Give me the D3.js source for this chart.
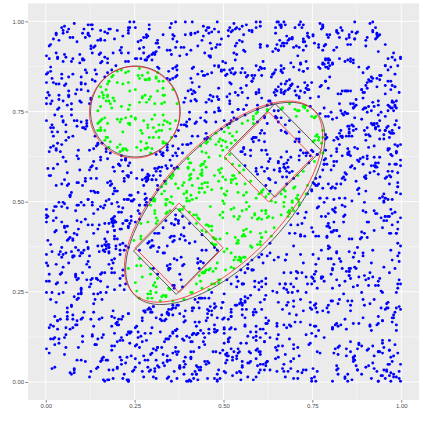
<!DOCTYPE html>
<html>
<head>
<meta charset="utf-8">
<script src="https://cdn.jsdelivr.net/npm/d3@7"></script>
<style>
body { margin: 0; background: #fff; }
svg { display: block; }
</style>
</head>
<body>
<svg id="chart" width="423" height="423"></svg>
<script>
// sampled points, 4 hex chars per point (x coarse, x fine, y coarse, y fine)
var pointHex = [
"3f9a07c2e81b5d64a93e0f7c2b18d5e6c470a9f3158be2d7064cfa19b3e8527d0c6af41e93b7d285c0fa6e1937b4d82a0e5c9f16b7348de2a0c5f19b6734ed8",
"92c7e04b8f1a6d35e9027bc4f8a1d63e507c9b2fa4e8d1063b7cf59a2e0d84b16f3c7a95e2d08b4f61ca37e9052bd8f14a6c39e7b205df8a461c3e97b0f5a2d",
"6e1a9d40c7f28b53e6a10d9cf47b2e85a3c06f19d7b4e2a85c31f09e6d7b4a28c5f3e10a97d6b42ec8f135a0d97b6e24c8f1a53d09e7b6c42af8153e0d96b7c",
"5511ab2e09dc7743f0a8be31c65d29ff8046ea1375bc0d9e246a8f13cb7e5092dd4a6f81b3e0c7592a4ef6813cd07b95e2a648f10dc3b79e5a2806f4dc1b73",
"8c3e1a07f5d92b64e0a7c19f3d5b826e4f1073ad9c25be68b29d6f4e0a13c75872f4ba09e1c3d665d1e80c2fa7b3941a95fc62d8e4b0377c0e42b1d9f5a86e",
"3b8f9d26e41ca0751ca46fe9d382b05790b5e17a2c4d8f63e3d7209cb61f5a84681ef4c2a97bd0353f62dcb0e9784a1526a9e05f7bd3c814f4c1b7e8a03d2965",
"d6e20c9ab14f7358a87b43e1f0d69c25fa0d2937c6e15b84053c8ef1a72d64b9c9f16ad4e8b03257e5da309b4f2c718637f418d5a0e2c9b6b2a05c7e19f3d84e",
"42af7cd318e6b05919c75f02d4ab8e36ec8b6a5f3701d24987e23d90bc56af14d4079b1e6fac2385b5e9c4a832d0f7163c6a81f7e05d92b40e19dcb3a7f482c6",
"a9053ebf62c1d7847d3e9a0cf81b52646b6f25c8d9a0e31713d0fb47ea5c9628f5842ad7c3e91b06e2c71b96a0f3d548584bd90ef2a67c1371e6a35cd40b9f82",
"0e7d4b1f9a3c86255fb1e83a647c0d92c2a975d0e1f63b48b8430fc629de7a15279fe84b5a1c30d6945ad2e8f07b61c3ad17c3b05e8f946228c60f9ad4b3e571",
"f1b8c5e4a22d09730a3f2e7d5c8691b4dd5c80b6f347a1e2e6f913a70b2dc58465e20ab9d8f4c317b07a4c1e5d93f6281c9e746f3a08b2d537d1f5a0c6be2948",
"58c49f7e01b2ad36c74ed02b1f83596ae92b7af45c6d108334e1a8c0d9f2b675a5d30e6b9c471f28161f9d7a30e45cb8b02cea5d741f3968ebf8d13924c6a70f",
"9f7a3dc20b5e8146216d8b5f9ae437c047b0e2c31d8a6f95c3e54a97f06b12d8ba917e3d5cf8240612cf6ba483e709d57e3d4a195f2bc8061a804df73c9e62b5",
"c44e1b9a027fd8635a0c7d3eb916f4284f9d60c8b3e21a75e38a72f5d1094cb617d25fb03a8e6c94b6e1940ad7c5382f932cdf46b0a1758e0bf84ae9c312d756",
"27a8e6f0cd4193b5e8524db17f9c0a36b1f603e59a8d274c0dc7ba43e6129f85694e2c1b8f05ad37d07fa5e9314c62b8a3b9c672d0f481e54c15e9d8a76fb032",
"e0d63a2c8571bf49bb294f07e6ad531c6cef1839a04d25b710a8bd5c7f9e426337d4e0f2c18b6a95f26bc948a3e510d78c30a71dfb5e49265a8e1f6b4c032d97",
"1a5c72b9e4086fd3d8e01f6c39ab274547b3cda802f51e693c4e8b5d1a0796f2a2f09e7bc64d3158e1d7526f4c8ab90377c9a34e0d1b85f2f46b81dc952a07e3",
"b7f0e4d1395a2c8654d2a96c0be7f13862a1f5073ec4b9d8f9c87b2e41d065a30b5d3e8af21c7649e468c0f3b9d512a783eb1a57c64f20d9ca1605f9e8db472b",
"6d93b5a8f20e1c470f47e2cb8d1963a5a52c0e9f4b7d3186d1ba6f380c4e597229e04d7c1a6b83f5f3759ab1e2c804d6481fc2e06db79a353c0a8fd96e472b1e",
"3ec5d89a14b2706fa0f1b62e7c5938d49b7a4cd501e8f263c2e8309fd6a41b576f1d83a5e2bc079405b9e2c0a7f4d18372a6fe14d9c0358bd95c07b36a1e2f48",
"85072fc3ae6d941bfd6e3b8a051c7924163ad94fe2b085c7ab9e51c6d0f3742828c4f70e19b5ad63e3d1a9587bc6f0427f50bd2c3e894a1645a8e6c91d03b7f2",
"d2b94e6071fca385c71a0f8d36e2b5494e68b1f3c9a527d07a3d52c84be16f09b0f5e92a7d4c13685d2c76b0e9af1834e8a04d31f5c762b919e7cf5b28a6d034",
"4f6b20ed8c7a1395e9350ad7b41cf862aa1d87f6039e54c27ce34b92d85f0a61017f5c3ae8b296d4bd48e1c970a35f2663a2f95be10c7d48f87c1b6e2d4093a5",
"a13d8c5b7f2e6049529f64a3e0d71cb8c8e07b1d4a6f329532b6d4f8e9157ac0ec5a3970db1f48261d94fa2c6e38b507b4702e6d58fca19376e1cb850a49f32d",
"09c6f5e3b1a8742d7e2b13d9a5f608c4f14da08c26e3b957bb8f7250e4c91a3d63d9e1c78ab25f04905b4af67d1e3c82d47a9c2eb68013f5e3f0dd716bc4a592",
"76e5a31fc0928db4b15c4e8207fa3d9620bde793f48a1c653fa92b6dc015e78487c1f05a3e6d294b1e6bd74ca85f230992e43a5f7b1c0d68cd307f8e4926ab51",
"eb8247d6395c0af1647ef19d2a3cb8053ab3f51c06e74d8999e1c6ba48df0352d250ea7f9c3b1648c5946be27f0a3d1810fd3c8b56e29a474ac27e0bd15f9863",
"2d1f09b8a6e4c37595743fcd10e82ab66ac5b274de9f1038f3098d5e2c4a7b610e2a6f91b58dc473b86d1c3a07f49e5233fb48e72ad6c5190179ae5d4b6c3f28",
"c9a27e154d0bf86308d93ab67f1ce2454b3e0fd81c9a6752e71cb43a968d205f5a8f62c09e3d71b4a06e95b327fd48c11cd58af4073e29b6f62b1d9ec0754a38",
"5473cea82f19bd0691f4d2e63b0ac857e82c9a1b6d5f03474e6ab9307c1d82f5d3b71f46e0a2589c27d0f8ce5b9a163492ed5a0c73b48f16ab15c37e946d028f"
].join("");

var extraHex = [
"f8e16d3a902cb57413a754bf8de0c2698dcb0e246a13f759602f94e1b5c8a7d337e98ab205d4fc61bc420f7d3a19e5680d6c5af182b4e7939b3f2c71e80d4a56",
"316b0fc9d8e7a25a4c59e12d7b3f608ea4fb28d39e06c1755e8d7c1b24af0963c270e8f45b91a3dd9a16b3e0c54f78218e3f6da29c750b14704ca9e5d26f8b13",
"be0c953d6a4f1782d7a48e0f9b13c26561e2f7ba3d085c94a3d6c12e8f7b04599bf0a76542ec1d383c51f8d70e96ab24f46b3a19c02d8e57067ed4b5f19a2c83",
"80f4ab6e1c379d52ecd6705f2ba9148344192ea8f5d07cb6c67b3f0d9e21a548d5e0947cab3f612ab82f6e501d4c9a73f9a1d53c846be07237c8b0e2fa59d614",
"1e53d2f87b9046ac6a3b8ce1d07f5492b0d74a963e2f1c85f7e2c5109bd8a36428c91f6b47ea3d05d4f067a3e82b1c5997b35edc1408fa26e06d2b84c3f975a1",
"a7c809e42bd53f16492e1d6fc75b83a0dc7b54ad1e09f2681f8a3e06b9c4d752e5b3c9f0d218a47666e1a4b2fc07d958b2587d6c13ae9f04348fe76a2dbc1905",
"6bd47e2a05c8913f0e6af9d47b21c5839a1c2bf8e6073d45574f0ea1d39b2c86c3e8d19b42f7a5600fb52d9c84e71a36e9a63c075fb4d12838d1f47ea6b029c5",
"d51ea0c86f3b4927b68c5732ea0d1f94237b9e0cd46fa51881a2d4b6f5e7930cf90d3be52a81c647c46f281ebd3a0759e207df95c3b6a18454c3b9f60a2e7d18",
"0aef6c3b9d7218455d29a1e4f87b0c3698c5f27d30e1b4a6e74b1c8a56d9f20313f6d85a29bce047bc1794e0f52a6d3822e8ab5d4c1f0769f7354bd6e890c1a2",
"93c3e5d108af4b726fb17d2ec4a5093814d0eb689f2ca753a8e64f0b3c7d91525b2ac9173e8f604dcf793a461b0de852e5b01c8ad46f2739268fe01d4cb7a3b5",
"47280b9e6cf1d3a5fa5c13d7e9b0846232ed8fa17b6c095493e7c86d5a4f01b2b41fd3926ea5c08701d9ae5c38f7b46289a4c1f0d2be57365e8c3b29a1d0f7e4",
"e8b5c1f4703a92d62c8ad5097f3e1b64c31f9e6ba057d48258a0bd3c94e1f67a7f6e2d918b3ca0451b47c68ed02f59a33fc59e82a47d106bd0b2e713f96ca548",
"5cf6d8a0e1b4392772e19b43ad6fc05806a3f71cd4b9e8528df84b3a017c5e69b9c72e5d61a0f38437d0fbc4e8a926154ae961c0d3fb827b1e3c9a4f8560d2b7",
"2916ae7fb34c0d58e7d0c8b26f1a4953a4e3b059d1c7f2863db14f6e8c29a570c0a5dfe12b7396846c4b9d37ea0f1528f2697a8d05e3bc14be8d12c053f4a796",
"d7ab3f4e2c190685b84f06dc3e5a9721571ca9ed804b3f6269e035b7f24dac18fb7e23190c8da54e03c6b8a51f9d27e45d2ea46c9b0f7138a912f7e0b64dc538",
"7064c9d2b85eaf13c1e8f7b06d39a24d3af5d2e1c49b8076e8b901aa5f6c3d27147d3cf8e6092b5a9be6a015d4c73f820d38e4b9a27f1c56fc95013dbe86a247",
"b85e29017af3c6d443b7ea6dc0219f58a0c5d198e3f6724bd62fc30b9a5e81748e01f5a4c7d3b296f39a7d2beb1406c559d4f8e3162a7cb012e6b9d5a8cf0734",
"1c2fd7b6e9830a545fd861c2ab07e93948a3c0e5d6f21b97e7195c4af8d3602bb6c03f9a214de785d5b82e6c7f09a1343e14a79b0c5d8f62817d6fb3e25c9a04",
"f3a91c0d582e7b64965c2afb170ed38435e7b4891dfc06a2cd8f1b3e49a65720092d6e7fc35b18a4ae4b059dc1f27638627f19e4a8bd03c5b3c06da175e2f849",
"4d0e8b73f5c21a96bf2a9d61e8340c57e31cd7950ab6f2486a98f3e4c10d5b27159c2bf87ea3d6400f74ea6b2c85d139c82e5a13d97f0b64d7b6904fce1a2835",
"a62d5fc90e7b1438098f3e1bd65a2c74f5c4a8d6e2b9703152e0b7c3498fa16d8c17e0b4f3d526a9b3f49e6a0d7cc2813da5e2f981b6c047e6780c2db5f14a39",
"15b9e7a04cd26f83dc4a06f5b93e817222f7c1ea843d9b60b093de8f5c16a2478a5e29d0c74f1b3e6e01b8c4f792ad35f4d8372a6e1b0c59c3a61d8f0b5e4792",
"ea7c1804b6f3d295734e9cb2af08d1653b1d6fea592c4807c82fa4397de0b516591b0ce7a46fd3820e6d52b8c3f914a7d9f03ab1e4c56872b14e7d0a8c3f6925",
"862f3ad1c05be97415c0b94e3d7f6a280fe49752bd13ac68adb6e803f25c7914e4280d1c96ba5f3739d5ec6ab1f4082701f8a25c6d397be4b73a4de9e0f26c15",
"3fd1b0e97a25c64891a6d3c8f504e27bc8537a2f0db9e461e2b8f146c0a7d5935e6c94d8a32f017bb07d25f1ec4a9368492e7bc5f063d1a8d5f3a19e76c048b2",
"c0e94f68d17a3b25f7b4e23a89c51d06261fa8d4ce0b3759ab3c0ef597d2468115d87c3b64aef209e9a12c07bd5f836440be5f93a1c2d786d7627eb48f0a1c39",
"97d5a3e0b28c6f147e0f6c5ad9b3418232c8fb1e60a5d7944a91e27c3f8d6b05f56b8d19e04c73a2b1de4730fa926c58085cf6ba2d3e71946c2ab9d180ef35a7"
].join("");

var moreHex = [
"c15ad8e2b6f0374992ab0e71d35cf86447fe293d8b15a06cbb08e6c4279da13f6d39f50a8c4e17b2ae7c2b04f19d6358f1a94d6e83c20b75380c6fa91be2d47d",
"268d0b3ea57f9c14e0b5947cd18f26a3fb72ce091a4d853683c4f9e27b05a1ddd4a06183e9b52fc7175bea9c042fd83e39e6d0f47a1b8c25a0d92b35c8e7f614",
"ba13f78e456c29d0d7f025a1bce396846d2b8c4f017ea95322fe9a70d64b38c1841c635bf9a0e27d5fa7e2d93c601b48c3084b1fe76d5a9209c5f7a2b184e3d6",
"e6d25b0917ac48f3d0e3b81c47f6295a4a97f6e3c20d1b85cb8f2d6a5e4197031cb0ee9872d3f46a5b7dc16fa094e228c54a37bd1e6f0904fe1d8c6b237a59a5",
"7b29c4da03e18f65c680fa359b4d2e717e1f9b5c0a2d4683f84a27d6eb9c513006dc8ff0b342a1e759a5e3187cd0246b3b147a29e6d5cf0861b7d0e5c4fa3892",
"f5c70e2b9d84a13639a6b21f8c0e75d48e4356d1f27a0bc9a13bc89470fe5d2640f89d3c1e6b5a7215e9ca7bd3468f0c2c6d1a85f0b47e39e7039be24f6c1a85",
"3da81f6c2e59b70418b5e9d3c07a4f62d07c42a0b1e386f95ff6d73e89c21ab4629e10b5ad4783cfa20f5874c9e3b16d8c54b93f6ad071e2bc3a6e1f27940d58",
"95e4a302d6fb1c87e318d5f64a2b90c72c47bf18e503d69aa96f0ce471b82d35b8c12d75f0ae6493175e3a9b6c82f0d4db07f6a418c3592e68a3dce92f0175b4",
"04f7c6b8253e9ad1ad2e57901fc6b83448b16ca3d97f205e7903e842c5ad1fb6e2cdba17063f8954361fd05ea8749bc2fa6984e7b01d253c8e4b31f2a9d6c705",
"d1307ae95cb8f246bf9c34d86e102a575e82a1f0bc473d9616f49b05d83ec7a2a3d6ce72459f1b0823b0917ef6d8a45cc9e86f2a14b37d05f87a4cb3d9e02612",
"6a8bed4f70123c95592ef183a7d6c04b0b6374ac2e9fd1588dc5a02b3f64e917e7f12c6d9a80453bc0d85f1b342a697e471e396c05bd28fa2f5a90dbe6c71834",
"b9c2184e0da5f37612e8fd5b97c4306a97a40d3cf6e218b5f10dba697c85e342245f8e71b30c9ad6a8e36c05294bf17d60b17fda3e25c89b4f2cd9a016ed753e",
"3c5f6a9e1b470d2884d9e70c3a1f5b266bf2038dc4e9a5711e78b4f9d0a263c5d0ac25e71b89f4637f4aa1c3df6082e9e89d57b02f3c6a1410e34f8d96ab7c52",
"a25e0fb74c1d9836c0b1d42e6f8a93576f3ca8d1b5204ee97d9e6b1032cf8a45198f7c4ae0d6b325e4a5290fdb31c68745d17b3e9c62a0f8b6380d2fa75ce941",
"fe4706a3d8b291c56a1b8f9dc4e037257c903e5b4d2af1689e0d71c6f52ba4833f86bde2079ac15441c5d9e8f6a3b207d56a2fbc08e713492b9f46ea3cd1058c",
"08db9ec52a4f176347e3c2b85f01ad96e1a85d39bc0f74622c7f041ad9e356b8b34e5cf0826a9d1759b2a6e7c41f8d03d06f28b14c5e39a7821e7ddf3c490ab6",
"4c71b2f08e6d95a3e9b3a057d4f612c85bfd7a1e029c4863f725c6b39ad0e1484d8ef51720b3ac69a6098dc3e1f27b546f2d49a7bc1830e5bbe4c60f1d3592a7",
"7ef3a0c58d1b6429d2a64b0c9e57f3817c9e52f6b0481ad318d04ef7a2b6c935e5b7d9812fc03a46a4618ce05f7d3b920b8f26ad941ce3575c3d09b7e26a4f18",
"c0569d4b2a71ef38b96be0d1f48235ac2ae41f97c3d6580b4f9c8e603b157ad267b105ac8fe2d439903a7f2d6c1e4b85e2d7c34a8b1f96056dac95b1e3407f28",
"11874cfd36e9a05be42bd870c5fa3196f7e63b29d0814ac5d9ca1e546f03b72838f105eb4a7c9d2665c0b47f91e28a3d8a3dcf27b465e0912f97e86c03da4b15",
"9db2e0f4537ac86106e418ba9c5d3f7262a3f7dc1e8b04598c79d4e2b6a10f35af13c69e84d27b05e5601da72bcf4938473ec5f0192d8ab6b08a71e35f64c29d",
"d3c94b1e8f6205a738ff7da2b0c16e49a51c6e3947bfd0820b6e1fa8c3942d7575a804dc6e2f391be7d2b38a05c1f64902cfe61b9d7a348586174c92fa3eb0d1",
"2b49d8c0f6ea1357fd2051e9a76b4c38cb8fa6375e0d91424ec306b1d85f2a978d65e2f4c0b79a1316afc9b7e341d0251d7fb2e4a098c563a04be1f7d2c69358",
"e872a61df4c03b95473d9fc5e2081ab6b6c1e047da53f9289f4b2c8e60a71d35c05e3b91f82d746a1b8d570aec6f3924dae9f34a12c08b67689f61cd0be35a27",
"5560ecb71a29f38de1ab04f6c87d2395a92d7b1ec0f6485310f73e95b4d2ac68cec81f3906ab5d7244b27ac861f0de59f713e5a96d0b42c8e0e59d21acb7364f",
"8a1fb726e0c95d43b4c2e8f0a1396d5727db539fe6a1c0848e51f7c4203ad9b65a3f90d6bc1872e416c4a8e5f9b3d207a18bdc63e7f0245907ed2f6a58b3c91e",
"f9b5d31c07e2a4688c5a12ef6b39d0473fe0c79a5b148d26c027b4e9d6381fa56d8a0bf1e2594c3719f24d63c8ea57b0b3e7681fa0dc529459c31b8a7e4f0d62",
"46de0a85c3fb17929e31c57b82f0da644a0f9d2eb675c381b7c8e314a9f6d025e19a6f507dc38b42d3527ec9416ab0f80a6dbc8f257e3914c42b9e7d603a1f58",
"b07c1e349da25f86f25ba6d8c71e0394cd3e8f5b024a6917158b79a2e3df406cea59c0d317f6b28432fde81c64b9a0576e01c2ab48f7d9358d94a3f5ec0612b7"
].join("");

// tick labels and grid breaks
var axisBreaks = [0, 0.25, 0.5, 0.75, 1];
var minorBreaks = [0.125, 0.375, 0.625, 0.875];

// true shapes (drawn black) : circle [cx, cy, r], ellipse [cx, cy, a, b, angleDeg], squares [cx, cy, halfDiag]
var circleTrue = [0.252, 0.750, 0.126];
var ellipseTrue = [0.505, 0.495, 0.360, 0.166, 45];
var squaresTrue = [[0.367, 0.363, 0.120], [0.645, 0.642, 0.130]];

// fitted shapes (drawn red)
var circleFit = [0.250, 0.748, 0.127];
var ellipseFit = [0.500, 0.500, 0.359, 0.163, 45];
var squaresFit = [[0.375, 0.372, 0.124], [0.627, 0.624, 0.125]];

var svg = d3.select("#chart");

var x = d3.scaleLinear().domain([-0.05, 1.05]).range([28, 419]);
var y = d3.scaleLinear().domain([-0.05, 1.05]).range([400, 3.3]);

// each point: coarse nibble of x and y read directly, fine nibbles carried as offsets
function decode(hex){
	var clean = hex.replace(/[^0-9a-f]/g, "");
	var pts = [];
	for (var i = 0; i + 4 <= clean.length; i += 4){
		var c0 = parseInt(clean[i], 16), c1 = parseInt(clean[i + 1], 16),
			c2 = parseInt(clean[i + 2], 16), c3 = parseInt(clean[i + 3], 16);
		var xf = (c1 + c3) % 16, yf = (c3 + c0) % 16;
		pts.push({
			x: (c0 * 16 + xf + 0.5) / 256,
			y: (c2 * 16 + yf + 0.5) / 256
		});
	}
	return pts;
}

function inCircle(p, c){
	var dx = p.x - c[0], dy = p.y - c[1];
	return dx*dx + dy*dy <= c[2]*c[2];
}

function inEllipse(p, e){
	var t = e[4] * Math.PI / 180;
	var dx = p.x - e[0], dy = p.y - e[1];
	var u = dx*Math.cos(t) + dy*Math.sin(t);
	var v = -dx*Math.sin(t) + dy*Math.cos(t);
	return (u*u)/(e[2]*e[2]) + (v*v)/(e[3]*e[3]) <= 1;
}

function inSquare(p, s){
	return Math.abs(p.x - s[0]) + Math.abs(p.y - s[1]) <= s[2];
}

var points = decode(pointHex + extraHex + moreHex);
points.forEach(function(p){
	var inside = inEllipse(p, ellipseTrue) && !inSquare(p, squaresTrue[0]) && !inSquare(p, squaresTrue[1]);
	p.green = inCircle(p, circleTrue) || inside;
});

// panel
svg.append("rect")
	.attr("x", x(-0.05)).attr("y", y(1.05))
	.attr("width", x(1.05) - x(-0.05))
	.attr("height", y(-0.05) - y(1.05))
	.attr("fill", "#EBEBEB");

var grid = svg.append("g");
grid.selectAll(".vminor").data(minorBreaks).enter().append("line")
	.attr("x1", function(d){ return x(d); }).attr("x2", function(d){ return x(d); })
	.attr("y1", y(-0.05)).attr("y2", y(1.05))
	.attr("stroke", "#fff").attr("stroke-width", 0.45);
grid.selectAll(".hminor").data(minorBreaks).enter().append("line")
	.attr("y1", function(d){ return y(d); }).attr("y2", function(d){ return y(d); })
	.attr("x1", x(-0.05)).attr("x2", x(1.05))
	.attr("stroke", "#fff").attr("stroke-width", 0.45);
grid.selectAll(".vmajor").data(axisBreaks).enter().append("line")
	.attr("x1", function(d){ return x(d); }).attr("x2", function(d){ return x(d); })
	.attr("y1", y(-0.05)).attr("y2", y(1.05))
	.attr("stroke", "#fff").attr("stroke-width", 0.9);
grid.selectAll(".hmajor").data(axisBreaks).enter().append("line")
	.attr("y1", function(d){ return y(d); }).attr("y2", function(d){ return y(d); })
	.attr("x1", x(-0.05)).attr("x2", x(1.05))
	.attr("stroke", "#fff").attr("stroke-width", 0.9);

// points
svg.append("g").selectAll("circle")
	.data(points)
	.enter()
	.append("circle")
	.attr("cx", function(d){ return x(d.x); })
	.attr("cy", function(d){ return y(d.y); })
	.attr("r", 1.45)
	.attr("fill", function(d){ return d.green ? "#00FF00" : "#0000FF"; });

// shape outlines
var line = d3.line()
	.x(function(d){ return x(d[0]); })
	.y(function(d){ return y(d[1]); });

var angles = d3.range(0, 361, 2).map(function(a){ return a * Math.PI / 180; });

function circlePath(c){
	return line(angles.map(function(a){ return [c[0] + c[2]*Math.cos(a), c[1] + c[2]*Math.sin(a)]; }));
}

function ellipsePath(e){
	var t = e[4] * Math.PI / 180;
	return line(angles.map(function(a){
		var u = e[2]*Math.cos(a), v = e[3]*Math.sin(a);
		return [e[0] + u*Math.cos(t) - v*Math.sin(t), e[1] + u*Math.sin(t) + v*Math.cos(t)];
	}));
}

function squarePath(s){
	return line([[s[0], s[1] + s[2]], [s[0] + s[2], s[1]], [s[0], s[1] - s[2]], [s[0] - s[2], s[1]], [s[0], s[1] + s[2]]]);
}

function drawShapes(c, e, sq, colour){
	var g = svg.append("g")
		.attr("fill", "none")
		.attr("stroke", colour)
		.attr("stroke-width", 0.8);
	g.append("path").attr("d", circlePath(c));
	g.append("path").attr("d", ellipsePath(e));
	sq.forEach(function(s){
		g.append("path").attr("d", squarePath(s));
	});
}

drawShapes(circleTrue, ellipseTrue, squaresTrue, "#333333");
drawShapes(circleFit, ellipseFit, squaresFit, "#FF2020");

// axes
var fmt = d3.format(".2f");

var xAxis = svg.append("g")
	.attr("transform", "translate(0," + y(-0.05) + ")")
	.call(d3.axisBottom(x).tickValues(axisBreaks).tickFormat(fmt).tickSize(2.7).tickPadding(1.5));

var yAxis = svg.append("g")
	.attr("transform", "translate(" + x(-0.05) + ",0)")
	.call(d3.axisLeft(y).tickValues(axisBreaks).tickFormat(fmt).tickSize(2.7).tickPadding(1.2));

[xAxis, yAxis].forEach(function(ax){
	ax.select(".domain").remove();
	ax.selectAll(".tick line").attr("stroke", "#333333").attr("stroke-width", 0.6);
	ax.selectAll(".tick text")
		.attr("fill", "#4D4D4D")
		.style("font-family", "'Liberation Sans', Arial, sans-serif")
		.style("font-size", "6px");
});
</script>
</body>
</html>
